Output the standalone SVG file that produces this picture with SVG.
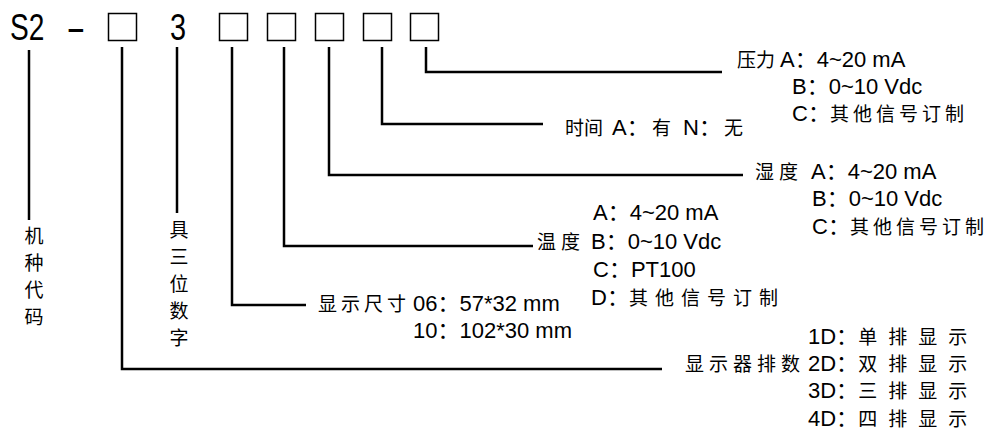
<svg xmlns="http://www.w3.org/2000/svg" width="988" height="430" viewBox="0 0 988 430">
<style>
text{font-family:"Liberation Sans","Noto Sans CJK SC",sans-serif;font-size:22px;fill:#000}
.cj{font-family:"Noto Sans CJK SC",sans-serif;font-size:19px;letter-spacing:5px}
.c0{letter-spacing:0}
.c4{letter-spacing:4px}
.c7{letter-spacing:7px}
.c11{letter-spacing:11px}
.big{font-family:"Liberation Sans",sans-serif;font-size:37px}
.box{fill:none;stroke:#000;stroke-width:1.5}
.ln{fill:none;stroke:#000;stroke-width:2.5}
.vt{font-family:"Noto Sans CJK SC",sans-serif;font-size:19px;text-anchor:middle}
</style>
<rect width="988" height="430" fill="#fff"/>
<g id="code">
<text class="big" transform="translate(10,40) scale(0.76,1)">S2</text>
<text class="big" transform="translate(66,40) scale(1.6,1)">-</text>
<text class="big" transform="translate(170,40) scale(0.78,1)">3</text>
<rect class="box" x="108.5" y="13.5" width="28" height="27"/>
<rect class="box" x="219.5" y="13.5" width="28" height="27"/>
<rect class="box" x="267.5" y="13.5" width="28" height="27"/>
<rect class="box" x="315.5" y="13.5" width="28" height="27"/>
<rect class="box" x="363.5" y="13.5" width="28" height="27"/>
<rect class="box" x="410.5" y="13.5" width="28" height="27"/>
</g>
<g id="connectors">
<path class="ln" d="M29,50V220"/>
<path class="ln" d="M122,47V369H662"/>
<path class="ln" d="M177,47V213"/>
<path class="ln" d="M232,47V305H306"/>
<path class="ln" d="M284,47V246H533"/>
<path class="ln" d="M329,47V175H743"/>
<path class="ln" d="M382,47V124H543"/>
<path class="ln" d="M426,47V72H722"/>
</g>
<g id="model">
<text class="vt"><tspan x="34" y="243">机</tspan><tspan x="34" y="270">种</tspan><tspan x="34" y="297">代</tspan><tspan x="34" y="324">码</tspan></text>
</g>
<g id="digits">
<text class="vt"><tspan x="179" y="237">具</tspan><tspan x="179" y="264">三</tspan><tspan x="179" y="291">位</tspan><tspan x="179" y="318">数</tspan><tspan x="179" y="345">字</tspan></text>
</g>
<g id="pressure">
<text x="737" y="67"><tspan class="cj c0">压力</tspan><tspan x="780">A：4~20 mA</tspan></text>
<text x="792" y="94">B：0~10 Vdc</text>
<text x="792" y="121">C：<tspan class="cj c4">其他信号订制</tspan></text>
</g>
<g id="time">
<text x="565" y="135"><tspan class="cj c0">时间</tspan><tspan x="612">A：</tspan><tspan class="cj" x="652">有</tspan><tspan x="683">N：</tspan><tspan class="cj" x="724">无</tspan></text>
</g>
<g id="humidity">
<text x="755" y="179"><tspan class="cj">湿度</tspan><tspan x="811">A：4~20 mA</tspan></text>
<text x="812" y="206">B：0~10 Vdc</text>
<text x="812" y="234">C：<tspan class="cj c4">其他信号订制</tspan></text>
</g>
<g id="temperature">
<text x="593" y="220">A：4~20 mA</text>
<text x="537" y="249"><tspan class="cj">温度</tspan><tspan x="591">B：0~10 Vdc</tspan></text>
<text x="593" y="277">C：PT100</text>
<text x="591" y="305">D：<tspan class="cj c7">其他信号订制</tspan></text>
</g>
<g id="size">
<text x="318" y="311"><tspan class="cj c4">显示尺寸</tspan><tspan x="413">06：57*32 mm</tspan></text>
<text x="413" y="338">10：102*30 mm</text>
</g>
<g id="rows">
<text x="808" y="344">1D：<tspan class="cj c11">单排显示</tspan></text>
<text x="685" y="371"><tspan class="cj">显示器排数</tspan><tspan x="808">2D：</tspan><tspan class="cj c11">双排显示</tspan></text>
<text x="808" y="398">3D：<tspan class="cj c11">三排显示</tspan></text>
<text x="808" y="426">4D：<tspan class="cj c11">四排显示</tspan></text>
</g>
</svg>
